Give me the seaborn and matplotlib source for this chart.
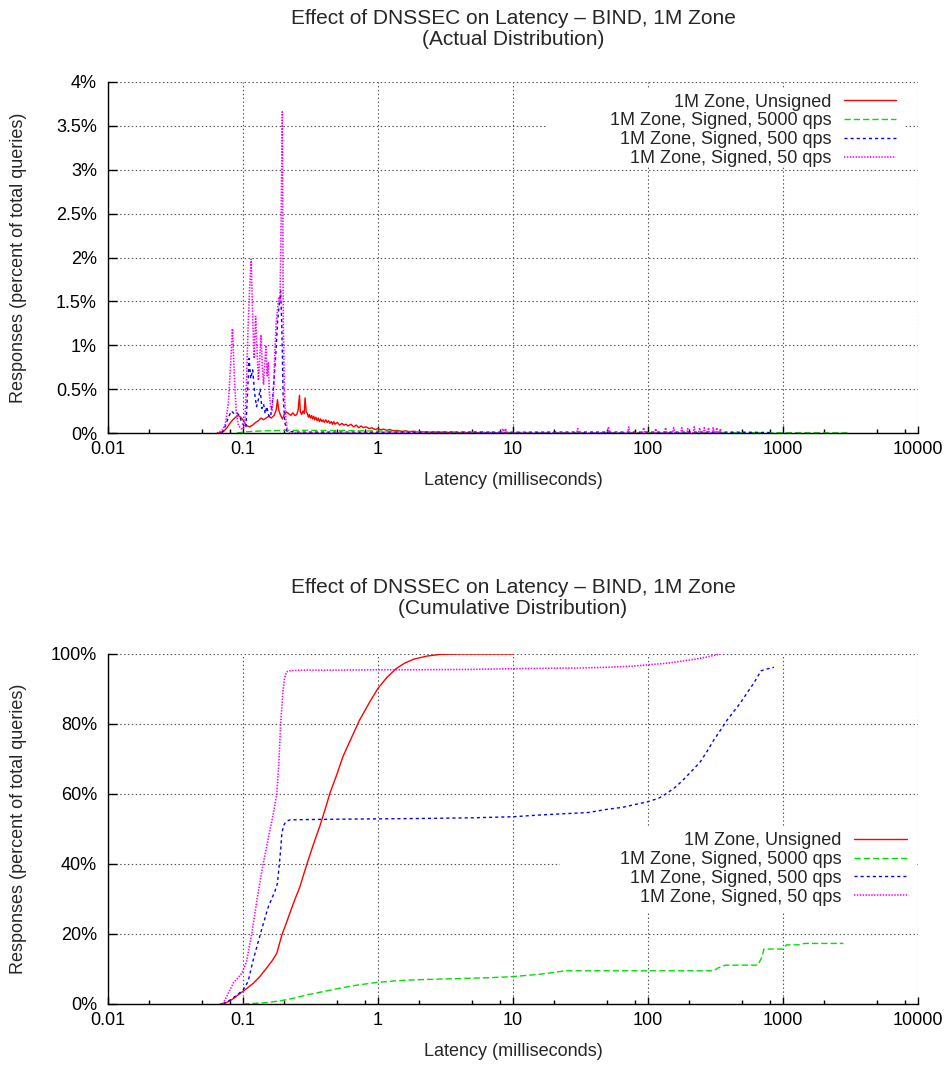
import matplotlib
matplotlib.use("Agg")
import matplotlib.pyplot as plt
import seaborn as sns
from matplotlib.ticker import FixedLocator, NullFormatter
from matplotlib.patches import Rectangle

# ---------------------------------------------------------------- data
series_names = [
    "1M Zone, Unsigned",
    "1M Zone, Signed, 5000 qps",
    "1M Zone, Signed, 500 qps",
    "1M Zone, Signed, 50 qps",
]

# Actual distribution (percent of total queries per latency bin)
unsigned_ms = [0.066, 0.072, 0.076, 0.080, 0.084, 0.088, 0.092, 0.096, 0.100, 0.104,
               0.108, 0.112, 0.118, 0.124, 0.130, 0.136, 0.142, 0.148, 0.155, 0.162,
               0.170, 0.176, 0.180, 0.184, 0.190, 0.196, 0.202, 0.210, 0.218, 0.226,
               0.234, 0.242, 0.250, 0.256, 0.262, 0.266, 0.272, 0.278, 0.284, 0.288,
               0.294, 0.300, 0.305, 0.310, 0.316, 0.322, 0.328, 0.334, 0.340, 0.347,
               0.354, 0.361, 0.368, 0.376, 0.384, 0.392, 0.400, 0.410, 0.420, 0.430,
               0.440, 0.450, 0.460, 0.470, 0.480, 0.500, 0.520, 0.540, 0.560, 0.580,
               0.600, 0.630, 0.660, 0.690, 0.720, 0.750, 0.780, 0.820, 0.860, 0.900,
               0.950, 1.00, 1.05, 1.10, 1.16, 1.22, 1.30, 1.40, 1.50, 1.60,
               1.70, 1.85, 2.00, 2.20, 2.50, 2.80, 3.20, 3.60, 4.00, 5.00,
               7.00, 10.0]
unsigned_pct = [0.0, 0.02, 0.06, 0.11, 0.15, 0.18, 0.20, 0.18, 0.15, 0.10,
                0.08, 0.07, 0.09, 0.12, 0.14, 0.17, 0.15, 0.17, 0.19, 0.17,
                0.20, 0.26, 0.38, 0.26, 0.20, 0.16, 0.21, 0.24, 0.22, 0.20,
                0.23, 0.20, 0.21, 0.26, 0.43, 0.24, 0.21, 0.25, 0.22, 0.40,
                0.24, 0.22, 0.18, 0.21, 0.17, 0.20, 0.16, 0.19, 0.15, 0.18,
                0.14, 0.17, 0.13, 0.16, 0.13, 0.15, 0.12, 0.15, 0.12, 0.14,
                0.11, 0.13, 0.10, 0.13, 0.10, 0.12, 0.09, 0.11, 0.09, 0.10,
                0.08, 0.10, 0.07, 0.09, 0.06, 0.08, 0.06, 0.07, 0.05, 0.06,
                0.04, 0.05, 0.035, 0.045, 0.03, 0.04, 0.025, 0.03, 0.018, 0.025,
                0.015, 0.02, 0.01, 0.015, 0.008, 0.01, 0.005, 0.007, 0.003, 0.004,
                0.002, 0.001]

signed5000_ms = [0.09, 0.10, 0.12, 0.15, 0.20, 0.30, 0.50, 0.80, 1.0, 2.0,
                 4.0, 10.0, 30.0, 100.0, 300.0, 1000.0, 3000.0]
signed5000_pct = [0.0, 0.01, 0.02, 0.025, 0.03, 0.03, 0.028, 0.025, 0.022, 0.015,
                  0.01, 0.006, 0.004, 0.003, 0.003, 0.003, 0.002]

signed500_ms = [0.070, 0.074, 0.078, 0.082, 0.086, 0.090, 0.094, 0.098, 0.102, 0.105,
                0.108, 0.111, 0.114, 0.118, 0.122, 0.126, 0.130, 0.134, 0.138, 0.142,
                0.146, 0.150, 0.155, 0.160, 0.165, 0.170, 0.175, 0.180, 0.185, 0.190,
                0.194, 0.198, 0.204, 0.212, 0.25, 0.5, 1.0, 2.0, 5.0, 10.0,
                20.0, 50.0, 100.0, 200.0, 400.0, 600.0, 800.0]
signed500_pct = [0.0, 0.08, 0.18, 0.25, 0.22, 0.23, 0.20, 0.12, 0.08, 0.06,
                 0.45, 0.85, 0.62, 0.72, 0.45, 0.30, 0.38, 0.50, 0.28, 0.33,
                 0.22, 0.30, 0.20, 0.18, 0.35, 0.62, 0.90, 1.25, 1.45, 1.62,
                 1.20, 0.45, 0.12, 0.02, 0.01, 0.01, 0.008, 0.008, 0.01, 0.008,
                 0.01, 0.01, 0.01, 0.01, 0.01, 0.008, 0.005]

signed50_ms = [0.064, 0.070, 0.074, 0.078, 0.081, 0.0835, 0.086, 0.089, 0.092, 0.096,
               0.100, 0.103, 0.106, 0.109, 0.112, 0.115, 0.118, 0.121, 0.124, 0.127,
               0.130, 0.133, 0.136, 0.139, 0.142, 0.145, 0.148, 0.151, 0.154, 0.157,
               0.160, 0.164, 0.168, 0.172, 0.176, 0.180, 0.184, 0.188, 0.1915, 0.1955,
               0.199, 0.203, 0.208, 0.213, 0.220,
               8.2, 8.4, 8.6, 8.8, 9.0, 29.6, 30.2, 30.8, 50.0, 51.0, 52.0,
               70.5, 72.0, 73.5, 91.0, 93.0, 95.0, 112.0, 114.0, 116.0,
               132.0, 135.0, 138.0, 152.0, 155.0, 158.0, 175.0, 178.0, 181.0,
               194.0, 197.0, 200.0, 216.0, 220.0, 224.0, 237.0, 241.0, 245.0,
               257.0, 261.0, 265.0, 276.0, 281.0, 286.0, 299.0, 304.0, 309.0,
               318.0, 323.0, 328.0, 339.0, 344.0, 350.0]
signed50_pct = [0.0, 0.03, 0.10, 0.35, 0.80, 1.19, 0.70, 0.25, 0.10, 0.05,
                0.04, 0.10, 0.55, 1.20, 1.65, 1.98, 1.30, 0.85, 1.33, 0.95,
                0.60, 0.85, 1.12, 0.75, 0.55, 0.80, 1.00, 0.65, 0.80, 0.45,
                0.30, 0.25, 0.45, 0.90, 1.25, 1.40, 1.55, 1.50, 2.40, 3.66,
                1.20, 0.40, 0.15, 0.03, 0.0,
                0.0, 0.05, 0.0, 0.05, 0.0, 0.0, 0.05, 0.0, 0.0, 0.07, 0.0,
                0.0, 0.07, 0.0, 0.0, 0.06, 0.0, 0.0, 0.05, 0.0,
                0.0, 0.06, 0.0, 0.0, 0.06, 0.0, 0.0, 0.06, 0.0,
                0.0, 0.05, 0.0, 0.0, 0.07, 0.0, 0.0, 0.06, 0.0,
                0.0, 0.06, 0.0, 0.0, 0.06, 0.0, 0.0, 0.06, 0.0,
                0.0, 0.06, 0.0, 0.0, 0.05, 0.0]

# Cumulative distribution (percent of total queries answered within latency)
cum_unsigned_ms = [0.068, 0.074, 0.080, 0.086, 0.092, 0.099, 0.107, 0.119, 0.133, 0.149,
                   0.164, 0.178, 0.194, 0.207, 0.222, 0.243, 0.264, 0.284, 0.304, 0.335,
                   0.370, 0.405, 0.440, 0.495, 0.550, 0.640, 0.730, 0.860, 1.00, 1.17,
                   1.37, 1.58, 1.83, 2.30, 2.89, 4.0, 6.0, 10.0]
cum_unsigned_pct = [0, 0.3, 0.9, 1.7, 2.6, 3.5, 4.5, 5.9, 7.8, 10.2,
                    12.3, 14.5, 19.7, 22.6, 25.9, 30.0, 33.5, 37.5, 41.1, 46.0,
                    50.7, 55.5, 60.2, 65.5, 70.7, 76.3, 81.1, 86.0, 90.2, 93.4,
                    95.9, 97.4, 98.5, 99.4, 99.9, 100, 100, 100]

cum_5000_ms = [0.1, 0.125, 0.15, 0.188, 0.24, 0.296, 0.40, 0.52, 0.70, 1.0,
               1.35, 1.83, 2.8, 4.3, 6.5, 9.8, 15.8, 20.0, 24.4, 50.0,
               100.0, 200.0, 307.0, 330.0, 375.0, 500.0, 652.0, 700.0, 722.0, 850.0,
               1000.0, 1060.0, 1300.0, 1450.0, 2000.0, 2800.0]
cum_5000_pct = [0, 0.2, 0.4, 0.9, 1.7, 2.6, 3.6, 4.5, 5.4, 6.2,
                6.6, 6.9, 7.1, 7.3, 7.5, 7.8, 8.5, 9.0, 9.5, 9.5,
                9.5, 9.5, 9.5, 10.3, 11.1, 11.1, 11.1, 13.5, 15.7, 15.7,
                15.7, 16.9, 16.9, 17.3, 17.3, 17.3]

cum_500_ms = [0.071, 0.080, 0.090, 0.100, 0.109, 0.119, 0.128, 0.137, 0.154, 0.165,
              0.172, 0.180, 0.185, 0.190, 0.194, 0.200, 0.208, 0.222, 0.3, 0.5,
              1.0, 2.0, 5.0, 10.0, 15.8, 25.0, 36.0, 49.3, 65.0, 78.0,
              100.0, 120.0, 138.0, 160.0, 182.0, 210.0, 244.0, 275.0, 307.0, 345.0,
              385.0, 430.0, 481.0, 540.0, 606.0, 650.0, 688.0, 760.0, 858.0]
cum_500_pct = [0, 1.1, 2.5, 4.0, 6.4, 12.6, 17.0, 21.1, 27.8, 30.5,
               32.1, 34.5, 39.2, 44.0, 48.8, 51.0, 52.1, 52.6, 52.7, 52.8,
               52.9, 53.0, 53.2, 53.5, 54.0, 54.4, 54.7, 55.6, 56.2, 56.9,
               57.8, 58.8, 60.2, 62.0, 64.0, 66.5, 69.2, 72.3, 75.4, 78.3,
               81.1, 83.5, 85.9, 88.8, 91.6, 93.6, 95.2, 95.7, 96.2]

cum_50_ms = [0.071, 0.080, 0.085, 0.092, 0.098, 0.106, 0.116, 0.126, 0.133, 0.141,
             0.148, 0.155, 0.165, 0.178, 0.185, 0.190, 0.197, 0.203, 0.210, 0.222,
             0.236, 0.3, 0.5, 1.0, 2.0, 5.0, 10.0, 15.8, 30.0, 49.3,
             75.0, 100.0, 140.0, 206.0, 270.0, 345.0]
cum_50_pct = [0, 4.0, 6.1, 7.5, 8.8, 12.0, 20.0, 29.0, 34.5, 40.0,
              44.0, 48.0, 53.0, 60.0, 70.0, 80.0, 88.8, 93.0, 94.9, 95.2,
              95.3, 95.4, 95.4, 95.5, 95.5, 95.6, 95.8, 95.9, 96.0, 96.2,
              96.5, 96.9, 97.4, 98.3, 99.1, 100]

x_tick_values = [0.01, 0.1, 1, 10, 100, 1000, 10000]
x_tick_labels = ["0.01", "0.1", "1", "10", "100", "1000", "10000"]
top_y_ticks = [0, 0.5, 1, 1.5, 2, 2.5, 3, 3.5, 4]
top_y_labels = ["0%", "0.5%", "1%", "1.5%", "2%", "2.5%", "3%", "3.5%", "4%"]
bottom_y_ticks = [0, 20, 40, 60, 80, 100]
bottom_y_labels = ["0%", "20%", "40%", "60%", "80%", "100%"]

# ---------------------------------------------------------------- style
sns.set_style("ticks")
plt.rcParams["font.family"] = ["Liberation Sans", "DejaVu Sans"]
plt.rcParams["font.size"] = 13

colors = ["#ff0000", "#00e000", "#0000ff", "#ff00ff"]
styles = ["-", (0, (4.5, 2.2)), (0, (2.2, 2.2)), (0, (0.9, 0.9))]
widths = [1.0, 1.0, 1.0, 1.15]

W, H = 951, 1065
fig = plt.figure(figsize=(W / 100, H / 100), dpi=100)
ax_top = fig.add_axes([108 / W, 1 - 433 / H, 810 / W, 351 / H])
ax_bot = fig.add_axes([108 / W, 1 - 1004 / H, 810 / W, 350 / H])

minor_ticks = [m * 10.0 ** k for k in range(-2, 4) for m in (2, 5, 8)]


def style_axes(ax, yticks, ylabels, ymax):
    ax.set_xscale("log")
    ax.set_xlim(0.01, 10000)
    ax.set_ylim(0, ymax)
    ax.set_axisbelow(True)
    ax.xaxis.set_major_locator(FixedLocator(x_tick_values))
    ax.set_xticklabels(x_tick_labels)
    ax.xaxis.set_minor_locator(FixedLocator(minor_ticks))
    ax.xaxis.set_minor_formatter(NullFormatter())
    ax.set_yticks(yticks)
    ax.set_yticklabels(ylabels)
    ax.grid(True, which="major", color="#555555", linewidth=0.8,
            linestyle=(0, (1.3, 2.2)))
    ax.tick_params(axis="x", which="major", direction="in", length=5,
                   width=1, pad=6, labelsize=13, colors="black")
    ax.tick_params(axis="x", which="minor", direction="in", length=3,
                   width=1, colors="black")
    ax.tick_params(axis="y", which="major", direction="in", length=6.5,
                   width=1, pad=8, labelsize=13, colors="black")
    for side in ("top", "right"):
        ax.spines[side].set_visible(False)
    for side in ("left", "bottom"):
        ax.spines[side].set_color("black")
        ax.spines[side].set_linewidth(1.0)
    ax.set_xlabel("Latency (milliseconds)", fontsize=13)
    ax.set_ylabel("Responses (percent of total queries)", fontsize=13)


def draw_series(ax, xs, ys):
    for x, y, c, ls, lw in zip(xs, ys, colors, styles, widths):
        sns.lineplot(x=x, y=y, ax=ax, color=c, linestyle=ls, linewidth=lw,
                     estimator=None, sort=False, legend=False)
    return ax.get_lines()[-len(series_names):]


def add_key(ax, lines, anchor):
    ax.legend(lines, series_names, loc="upper right", bbox_to_anchor=anchor,
              frameon=False, markerfirst=False, handlelength=2.9, handletextpad=0.7,
              labelspacing=0.1, borderpad=0, borderaxespad=0, fontsize=13)


title_kw = dict(ha="center", va="center", fontsize=15, linespacing=1.12)

# ---------------------------------------------------------------- top: actual distribution
style_axes(ax_top, top_y_ticks, top_y_labels, 4)
top_lines = draw_series(
    ax_top,
    [unsigned_ms, signed5000_ms, signed500_ms, signed50_ms],
    [unsigned_pct, signed5000_pct, signed500_pct, signed50_pct],
)
ax_top.add_patch(Rectangle((0.543, 0.7635), 0.441, 0.219, transform=ax_top.transAxes,
                           facecolor="white", edgecolor="none", zorder=1))
add_key(ax_top, top_lines, (0.973, 0.967))
ax_top.xaxis.set_label_coords(0.5, -0.134)
ax_top.xaxis.label.set_va("center")
ax_top.yaxis.set_label_coords(-0.111, 0.5)
ax_top.yaxis.label.set_va("center")
fig.text(513 / W, 1 - 29 / H,
         "Effect of DNSSEC on Latency \u2013 BIND, 1M Zone\n(Actual Distribution)", **title_kw)

# ---------------------------------------------------------------- bottom: cumulative distribution
style_axes(ax_bot, bottom_y_ticks, bottom_y_labels, 100)
bot_lines = draw_series(
    ax_bot,
    [cum_unsigned_ms, cum_5000_ms, cum_500_ms, cum_50_ms],
    [cum_unsigned_pct, cum_5000_pct, cum_500_pct, cum_50_pct],
)
ax_bot.add_patch(Rectangle((0.558, 0.263), 0.44, 0.24, transform=ax_bot.transAxes,
                           facecolor="white", edgecolor="none", zorder=1))
add_key(ax_bot, bot_lines, (0.986, 0.491))
ax_bot.xaxis.set_label_coords(0.5, -0.137)
ax_bot.xaxis.label.set_va("center")
ax_bot.yaxis.set_label_coords(-0.111, 0.5)
ax_bot.yaxis.label.set_va("center")
fig.text(513 / W, 1 - 598 / H,
         "Effect of DNSSEC on Latency \u2013 BIND, 1M Zone\n(Cumulative Distribution)", **title_kw)

fig.savefig("out.png", dpi=100, facecolor="white")
